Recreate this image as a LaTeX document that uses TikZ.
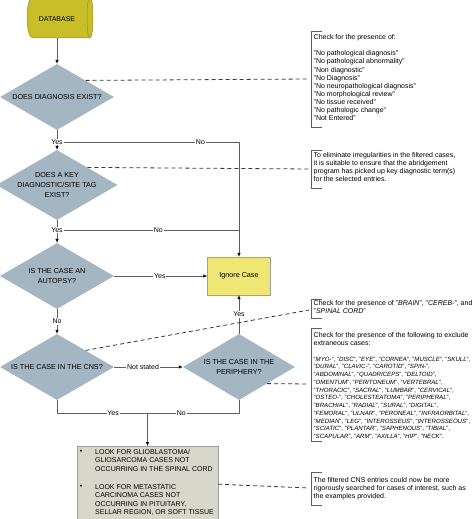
\documentclass[tikz,border=0pt]{standalone}
\usepackage{fontspec}
\setmainfont{Liberation Sans}
\usetikzlibrary{shapes.geometric,arrows.meta}
\definecolor{dbfill}{RGB}{199,190,40}
\definecolor{dbline}{RGB}{150,145,30}
\definecolor{dia}{RGB}{163,182,193}
\definecolor{ign}{RGB}{240,230,115}
\definecolor{bbox}{RGB}{216,216,202}
\definecolor{ln}{RGB}{95,95,95}
\newcommand{\qi}[1]{"\textit{#1}"}
\begin{document}
\begin{tikzpicture}[x=1pt,y=-1pt,
  every node/.style={font=\fontsize{7}{8}\selectfont},
  dec/.style={diamond, fill=dia, aspect=1.73, minimum width=114pt, minimum height=66pt, inner sep=0pt, align=center, font=\fontsize{7.2}{9.6}\selectfont},
  conn/.style={draw=ln, line width=0.6pt},
  arr/.style={conn, -{Latex[length=4pt,width=3.5pt,color=black]}},
  lbl/.style={fill=white, inner sep=0.8pt},
  note/.style={draw=ln!60!black, line width=0.8pt, dash pattern=on 4pt off 3pt},
  brk/.style={draw=ln, line width=0.6pt},
  txt/.style={anchor=north west, align=left, inner sep=0pt, font=\fontsize{7}{8.1}\selectfont},
  btxt/.style={anchor=north west, align=left, inner sep=0pt, font=\fontsize{7}{8.4}\selectfont}
]
\useasboundingbox (0,0) rectangle (474,519);
\begin{scope}
\clip (0,0) rectangle (474,519);
% database
\path[fill=dbfill, draw=dbline, line width=0.5pt] (33,-3) -- (90,-3) .. controls (94,-3) and (94,38) .. (90,38) -- (33,38) .. controls (25,38) and (25,-3) .. (33,-3);
\draw[dbline, line width=0.5pt] (90,-3) .. controls (86,-3) and (86,38) .. (90,38);
\node[minimum width=50pt, minimum height=38pt, inner sep=0pt] (db) at (57,19) {DATABASE};

% decisions
\node[dec] (d1) at (57,97) {DOES DIAGNOSIS EXIST?};
\node[dec] (d2) at (57,185) {DOES A KEY\\DIAGNOSTIC/SITE TAG\\EXIST?};
\node[dec] (d3) at (57,276) {IS THE CASE AN\\AUTOPSY?};
\node[dec] (d4) at (57,367) {IS THE CASE IN THE CNS?};
\node[dec, minimum width=112pt] (d5) at (239,367) {IS THE CASE IN THE\\PERIPHERY?};
\node[rectangle, fill=ign, draw=ln!60, line width=0.4pt, minimum width=63pt, minimum height=38pt, font=\fontsize{7.2}{8}\selectfont] (ign) at (239,276) {Ignore Case};
\node[rectangle, fill=bbox, draw=ln!60, line width=0.4pt, minimum width=141pt, minimum height=76pt, anchor=north] (box) at (147.5,446) {};
\node (bu1) at (81,452) {•};
\node (bu2) at (81,487) {•};
\node[btxt] (bt1) at (95,449.2) {LOOK FOR GLIOBLASTOMA/\\GLIOSARCOMA CASES NOT\\OCCURRING IN THE SPINAL CORD};
\node[btxt] (bt2) at (95,484.2) {LOOK FOR METASTATIC\\CARCINOMA CASES NOT\\OCCURRING IN PITUITARY,\\SELLAR REGION, OR SOFT TISSUE};

% connectors
\draw[arr] (db.south) -- (d1.north);
\node[lbl] (y1) at (57,142) {Yes};
\coordinate (k1) at (239,142);
\draw[conn] (d1.south) -- (y1);
\draw[arr] (y1) -- (d2.north);
\draw[conn] (y1) -- node[lbl, pos=0.78] (no1) {No} (k1);
\draw[arr] (k1) -- (ign.north);
\node[lbl] (y2) at (57,230) {Yes};
\coordinate (k2) at (239,230);
\draw[conn] (d2.south) -- (y2);
\draw[arr] (y2) -- (d3.north);
\draw[conn] (y2) -- node[lbl, pos=0.54] (no2) {No} (k2);
\draw[arr] (d3.east) -- node[lbl, pos=0.49] (ye3) {Yes} (ign.west);
\draw[arr] (d3.south) -- node[lbl] (no3) {No} (d4.north);
\draw[arr] (d4.east) -- node[lbl, pos=0.42] (ns) {Not stated} (d5.west);
\draw[arr] (d5.north) -- node[lbl] (ye5) {Yes} (ign.south);
\coordinate (b1) at (57,413);
\coordinate (b2) at (239,413);
\coordinate (bm) at (147.5,413);
\draw[conn] (d4.south) -- (b1) -- node[lbl, pos=0.62] (ye4) {Yes} (bm);
\draw[conn] (d5.south) -- (b2) -- node[lbl, pos=0.63] (no5) {No} (bm);
\draw[arr] (bm) -- (box.north);

% notes
\coordinate (c1) at (309,79);
\coordinate (c2) at (309,169);
\coordinate (c3) at (309,310);
\coordinate (c4) at (309,384);
\coordinate (c5) at (309,488);
\draw[note] (d1.north east) -- (c1);
\draw[note] (d2.north east) -- (c2);
\draw[note] (d4.north east) -- (c3);
\draw[note] (d5.south east) -- (c4);
\draw[note] (box.east) -- (c5);

\draw[brk] (322,31) -- (311,31) -- (311,127) -- (322,127);
\draw[brk] (322,150) -- (311,150) -- (311,188) -- (322,188);
\draw[brk] (322,299) -- (311,299) -- (311,318) -- (322,318);
\draw[brk] (322,328) -- (311,328) -- (311,441) -- (322,441);
\draw[brk] (322,472) -- (311,472) -- (311,505) -- (322,505);

\node[txt] (t1) at (313.5,34.4) {Check for the presence of:\\[8.1pt]
"No pathological diagnosis"\\
"No pathological abnormality"\\
"Non diagnostic"\\
"No Diagnosis"\\
"No neuropathological diagnosis"\\
"No morphological review"\\
"No tissue received"\\
"No pathologic change"\\
"Not Entered"};
\node[txt] (t2) at (313.5,152.4) {To eliminate irregularities in the filtered cases,\\
it is suitable to ensure that the abridgement\\
program has picked up key diagnostic term(s)\\
for the selected entries.};
\node[txt] (t3) at (313.5,300.4) {Check for the presence of \qi{BRAIN}, \qi{CEREB-}, and\\
\qi{SPINAL CORD}};
\node[txt, font=\fontsize{7}{7.8}\selectfont] (t4) at (313.5,332.4) {Check for the presence of the following to exclude\\
extraneous cases:};
\node[txt, font=\fontsize{6.1}{7.75}\selectfont] (t4b) at (313.5,356.6) {\qi{MYO-}, \qi{DISC}, \qi{EYE}, \qi{CORNEA}, \qi{MUSCLE}, \qi{SKULL},\\
\qi{DURAL}, \qi{CLAVIC-}, \qi{CAROTID}, \qi{SPIN-},\\
\qi{ABDOMINAL}, \qi{QUADRICEPS}, \qi{DELTOID},\\
\qi{OMENTUM}, \qi{PERITONEUM}, \qi{VERTEBRAL},\\
\qi{THORACIC}, \qi{SACRAL}, \qi{LUMBAR}, \qi{CERVICAL},\\
\qi{OSTEO-}, \qi{CHOLESTEATOMA}, \qi{PERIPHERAL},\\
\qi{BRACHIAL}, \qi{RADIAL}, \qi{SURAL}, \qi{DIGITAL},\\
\qi{FEMORAL}, \qi{ULNAR}, \qi{PERONEAL}, \qi{INFRAORBITAL},\\
\qi{MEDIAN}, \qi{LEG}, \qi{INTEROSSEUS}, \qi{INTEROSSEOUS},\\
\qi{SCIATIC}, \qi{PLANTAR}, \qi{SAPHENOUS}, \qi{TIBIAL},\\
\qi{SCAPULAR}, \qi{ARM}, \qi{AXILLA}, \qi{HIP}, \qi{NECK}.};
\node[txt] (t5) at (313.5,477.4) {The filtered CNS entries could now be more\\
rigorously searched for cases of interest, such as\\
the examples provided.};
\end{scope}
\end{tikzpicture}
\end{document}
